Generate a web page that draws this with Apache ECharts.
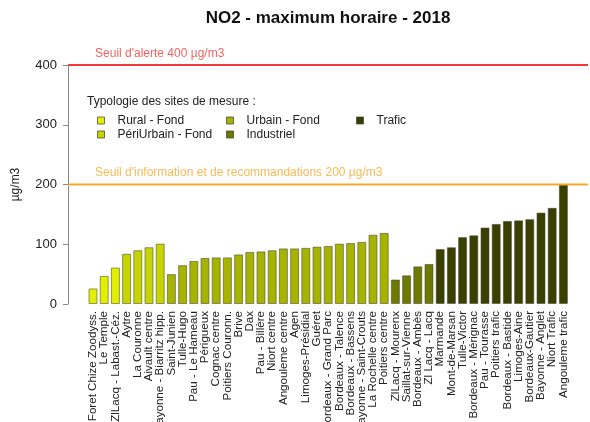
<!DOCTYPE html>
<html>
<head>
<meta charset="utf-8">
<script src="https://cdn.jsdelivr.net/npm/echarts@6/dist/echarts.min.js"></script>
<style>
  html, body { margin: 0; padding: 0; background: #fff; }
  #chart { width: 590px; height: 422px; }
</style>
</head>
<body>
<div id="chart"></div>
<script>
// Stations, in plotting order
const stations = [
  'Foret Chize Zoodyss.', 'Le Temple', 'ZlLacq - Labast.-Céz.',
  'Aytre', 'La Couronne', 'Aivault centre', 'Bayonne - Biarritz hipp.',
  'Saint-Junien', 'Tulle-Hugo', 'Pau - Le Hameau', 'Périgueux', 'Cognac centre',
  'Poitiers Couronn.', 'Brive', 'Dax', 'Pau - Billère', 'Niort centre',
  'Angouleme centre', 'Agen', 'Limoges-Présidial', 'Guéret', 'Bordeaux - Grand Parc',
  'Bordeaux - Talence', 'Bordeaux - Bassens', 'Bayonne - Saint-Crouts',
  'La Rochelle centre', 'Poitiers centre',
  'ZlLacq - Mourenx', 'Saillat-sur-Vienne', 'Bordeaux - Ambès', 'Zl Lacq - Lacq',
  'Marmande', 'Mont-de-Marsan', 'Tulle-Victor', 'Bordeaux - Mérignac', 'Pau - Tourasse',
  'Poitiers trafic', 'Bordeaux - Bastide', 'Limoges-Aine', 'Bordeaux-Gautier',
  'Bayonne - Anglet', 'Niort Trafic', 'Angouleme trafic'
];

// NO2 hourly maximum (µg/m3) per station
const values = [
  26, 47, 61,
  84, 90, 95, 101,
  50, 65, 72, 77, 78, 78, 83, 87, 88, 90, 93, 93, 94, 96, 97, 101, 102, 104, 116, 119,
  41, 48, 63, 67,
  92, 95, 112, 115, 128, 134, 139, 140, 142, 153, 161, 200
];

// Site type of each station
const siteTypes = ['Rural - Fond', 'PériUrbain - Fond', 'Urbain - Fond', 'Industriel', 'Trafic'];
const typeOfStation = [
  0, 0, 0,
  1, 1, 1, 1,
  2, 2, 2, 2, 2, 2, 2, 2, 2, 2, 2, 2, 2, 2, 2, 2, 2, 2, 2, 2,
  3, 3, 3, 3,
  4, 4, 4, 4, 4, 4, 4, 4, 4, 4, 4, 4
];
const typeColors = ['#e2f000', '#c6d400', '#a6b400', '#6c7a00', '#394000'];

// Regulatory thresholds
const alertLevel = 400;
const infoLevel = 200;
const alertText = "Seuil d'alerte 400 µg/m3";
const infoText = "Seuil d'information et de recommandations 200 µg/m3";

const yTicks = [0, 100, 200, 300, 400];

const FONT = '"Liberation Sans", Arial, sans-serif';

const barSeries = siteTypes.map((name, t) => ({
  name: name,
  type: 'bar',
  xAxisIndex: 1,
  yAxisIndex: 1,
  stack: 'sites',
  barWidth: 9,
  itemStyle: { color: typeColors[t], borderColor: 'rgba(70,70,50,0.55)', borderWidth: 1 },
  data: values.map((v, i) => (typeOfStation[i] === t ? v : null)),
  animation: false
}));

function thresholdSeries(level, color, text, textX) {
  return [
    {
      type: 'line',
      xAxisIndex: 0, yAxisIndex: 0,
      data: [[0, level], [1, level]],
      symbol: 'none',
      lineStyle: { color: color, width: 2 },
      silent: true,
      animation: false
    },
    {
      type: 'scatter',
      xAxisIndex: 0, yAxisIndex: 0,
      data: [[textX, level]],
      symbolSize: 1,
      itemStyle: { color: 'rgba(0,0,0,0)' },
      label: {
        show: true, formatter: text, position: 'top', align: 'left', distance: 5,
        color: color, fontSize: 12, fontFamily: FONT
      },
      silent: true,
      animation: false
    }
  ];
}

const chart = echarts.init(document.getElementById('chart'), null, { renderer: 'canvas' });

chart.setOption({
  backgroundColor: '#ffffff',
  animation: false,
  title: [
    {
      text: 'NO2 - maximum horaire - 2018',
      left: 323, top: 5, textAlign: 'center',
      textStyle: { fontSize: 17, fontWeight: 'bold', color: '#111', fontFamily: FONT }
    },
    {
      text: 'Typologie des sites de mesure :',
      left: 87, top: 96, padding: 0,
      textStyle: { fontSize: 12, fontWeight: 'normal', color: '#222', fontFamily: FONT }
    }
  ],
  legend: [
    { data: [siteTypes[0], siteTypes[1]], left: 97, top: 114 },
    { data: [siteTypes[2], siteTypes[3]], left: 226, top: 114 },
    { data: [siteTypes[4]], left: 356, top: 114 }
  ].map(l => Object.assign(l, {
    orient: 'vertical',
    padding: 0,
    itemGap: 1,
    itemWidth: 7,
    itemHeight: 7,
    icon: 'rect',
    itemStyle: { borderColor: 'rgba(60,60,40,0.7)', borderWidth: 1 },
    textStyle: { fontSize: 12, color: '#222', fontFamily: FONT, padding: [0, 0, 0, 8], lineHeight: 13 }
  })),
  grid: [
    { left: 68, right: 2, top: 65, height: 239, outerBoundsMode: 'none' },
    { left: 87.4, width: 481.6, top: 65, height: 239, outerBoundsMode: 'none' }
  ],
  xAxis: [
    { type: 'value', gridIndex: 0, min: 0, max: 1, show: false },
    {
      type: 'category', gridIndex: 1, data: stations,
      axisLine: { show: false }, axisTick: { show: false },
      axisLabel: {
        rotate: 90, interval: 0, margin: 7,
        fontSize: 11.6, color: '#222', fontFamily: FONT
      }
    }
  ],
  yAxis: [
    {
      type: 'value', gridIndex: 0, min: 0, max: 400, interval: 100,
      name: 'µg/m3', nameLocation: 'middle', nameGap: 46, nameRotate: 90,
      nameTextStyle: { fontSize: 12, color: '#222', fontFamily: FONT },
      axisLine: { show: true, lineStyle: { color: '#888', width: 1 } },
      axisTick: { show: true, inside: false, length: 5, lineStyle: { color: '#888' } },
      axisLabel: {
        fontSize: 13, color: '#222', fontFamily: FONT, margin: 11,
        customValues: yTicks
      },
      splitLine: { show: false }
    },
    { type: 'value', gridIndex: 1, min: 0, max: 400, show: false }
  ],
  series: [
    ...thresholdSeries(alertLevel, '#ee3a3a', alertText, 0.052),
    ...thresholdSeries(infoLevel, '#f5a92a', infoText, 0.052),
    ...barSeries
  ]
});
</script>
</body>
</html>
